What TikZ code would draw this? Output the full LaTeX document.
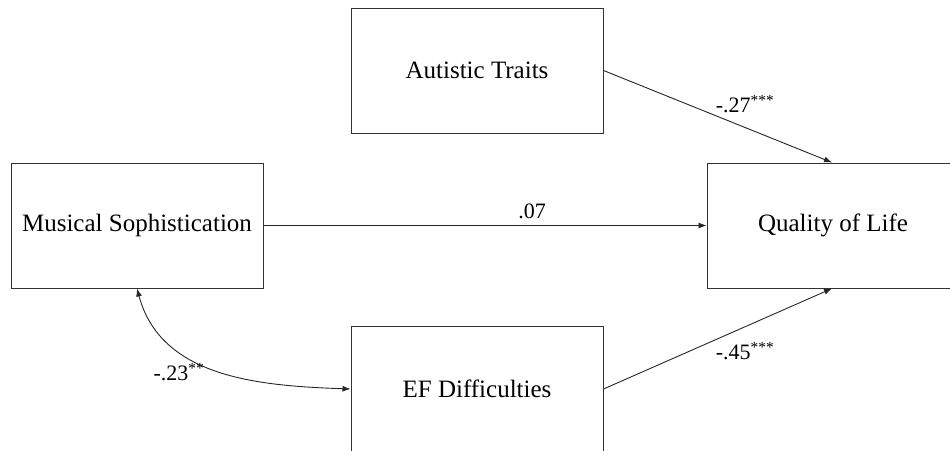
\documentclass[tikz,border=0pt]{standalone}
\usepackage{fontspec}
\setmainfont{Liberation Serif}
\usetikzlibrary{positioning,arrows.meta}

\tikzset{
    varbox/.style={draw=black!80, line width=1pt, minimum width=252pt, minimum height=125pt,
        inner sep=0pt, font=\fontsize{25}{30}\selectfont},
    coef/.style={font=\fontsize{22}{26}\selectfont, inner sep=0pt},
    path/.style={line width=0.9pt, draw=black!85, -{Latex[length=8pt,width=6pt]}}
}

\begin{document}
\begin{tikzpicture}[x=1pt, y=-1pt]
    \useasboundingbox (0,0) rectangle (950,450);

    % Variables
    \node[varbox] (aut) at (477,70.5) {Autistic Traits};
    \node[varbox] (mus) at (137,225.5) {Musical Sophistication};
    \node[varbox, minimum width=270pt] (qol) at (842,225.5) {\hspace*{-18pt}Quality of Life};
    \node[varbox] (ef) at (477,389) {EF Difficulties};

    % Paths
    \draw[path] (aut.east) -- ([xshift=-10pt]qol.north);
    \draw[path] (mus.east) -- (qol.west);
    \draw[path] (ef.east) -- ([xshift=-10pt]qol.south);

    % Covariance
    \draw[path, {Latex[length=8pt,width=6pt]}-{Latex[length=8pt,width=6pt]}]
        (mus.south) to[out=-75, in=178] (ef.west);

    % Coefficients
    \node[coef] (c1) at (745,104) {-.27\textsuperscript{***}};
    \node[coef] (c2) at (532,211) {.07};
    \node[coef] (c3) at (745,351) {-.45\textsuperscript{***}};
    \node[coef] (c4) at (179,372) {-.23\textsuperscript{**}};
\end{tikzpicture}
\end{document}
